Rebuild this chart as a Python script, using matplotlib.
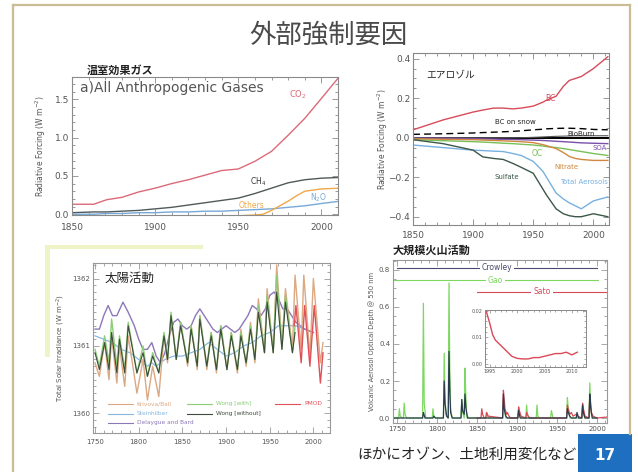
import matplotlib
matplotlib.use("Agg")
import matplotlib.pyplot as plt
from matplotlib.patches import Rectangle
from matplotlib.lines import Line2D
from matplotlib.ticker import MultipleLocator

JP = ['Noto Sans CJK JP', 'DejaVu Sans']
plt.rcParams['font.family'] = ['DejaVu Sans']

# ---- a) greenhouse gases ----
ghg_yr = [1850, 1863, 1871, 1880, 1890, 1900, 1910, 1920, 1930, 1940, 1950, 1960, 1970, 1980, 1990, 2000, 2011]
co2 = [0.13, 0.13, 0.19, 0.22, 0.29, 0.34, 0.40, 0.45, 0.51, 0.57, 0.59, 0.69, 0.82, 1.03, 1.25, 1.51, 1.80]
ch4 = [0.02, 0.03, 0.03, 0.04, 0.05, 0.07, 0.09, 0.12, 0.15, 0.18, 0.21, 0.27, 0.34, 0.41, 0.45, 0.47, 0.48]
n2o = [0.00, 0.00, 0.01, 0.01, 0.02, 0.02, 0.03, 0.03, 0.04, 0.04, 0.05, 0.06, 0.07, 0.09, 0.11, 0.14, 0.17]
oth_yr = [1915, 1930, 1950, 1960, 1965, 1970, 1975, 1980, 1985, 1990, 2000, 2011]
others = [-0.03, -0.03, -0.02, -0.01, 0.0, 0.05, 0.11, 0.17, 0.24, 0.30, 0.33, 0.34]

# ---- aerosols ----
aer_yr = [1850, 1875, 1900, 1908, 1917, 1925, 1933, 1940, 1950, 1958, 1961, 1969, 1975, 1980, 1985, 1990, 2000, 2012]
bc = [0.04, 0.09, 0.13, 0.14, 0.15, 0.15, 0.146, 0.15, 0.16, 0.18, 0.19, 0.21, 0.26, 0.29, 0.30, 0.31, 0.35, 0.41]
bc_snow = [0.017, 0.02, 0.024, 0.026, 0.028, 0.03, 0.032, 0.035, 0.04, 0.043, 0.045, 0.047, 0.048, 0.048, 0.047, 0.046, 0.042, 0.04]
bioburn = [0.0, 0.0, 0.0, 0.0, 0.0, 0.0, 0.0, 0.0, 0.002, 0.004, 0.005, 0.007, 0.008, 0.009, 0.01, 0.01, 0.01, 0.01]
soa = [-0.002, -0.003, -0.005, -0.006, -0.007, -0.008, -0.009, -0.01, -0.012, -0.014, -0.015, -0.018, -0.02, -0.022, -0.024, -0.026, -0.028, -0.03]
oc = [-0.01, -0.015, -0.02, -0.022, -0.025, -0.028, -0.03, -0.033, -0.037, -0.042, -0.045, -0.05, -0.055, -0.06, -0.065, -0.07, -0.08, -0.09]
nitrate = [-0.005, -0.008, -0.01, -0.012, -0.014, -0.016, -0.018, -0.02, -0.025, -0.035, -0.04, -0.055, -0.075, -0.095, -0.105, -0.11, -0.115, -0.115]
total_aer = [-0.037, -0.05, -0.063, -0.065, -0.068, -0.07, -0.08, -0.09, -0.12, -0.17, -0.2, -0.28, -0.31, -0.33, -0.345, -0.36, -0.32, -0.30]
sulfate = [-0.01, -0.03, -0.063, -0.097, -0.105, -0.11, -0.13, -0.15, -0.18, -0.26, -0.29, -0.36, -0.385, -0.395, -0.40, -0.40, -0.385, -0.40]

# ---- solar ----
sol_yr = [1750, 1755, 1761, 1766, 1769, 1775, 1778, 1784, 1788, 1798, 1805, 1810, 1816, 1823,
          1829, 1833, 1837, 1843, 1848, 1856, 1860, 1867, 1870, 1878, 1883, 1889, 1894, 1901,
          1906, 1913, 1917, 1923, 1928, 1933, 1937, 1944, 1947, 1954, 1958, 1964, 1968, 1976,
          1979, 1986, 1989, 1996, 2000, 2008, 2011]
krivova = [1360.75, 1360.55, 1361.05, 1360.5, 1361.15, 1360.45, 1361.0, 1360.4, 1361.15, 1360.3,
           1360.8, 1360.2, 1360.7, 1360.25, 1361.15, 1360.75, 1361.45, 1360.8, 1361.35, 1360.7,
           1361.3, 1360.65, 1361.45, 1360.65, 1361.2, 1360.6, 1361.3, 1360.65, 1361.2, 1360.6,
           1361.25, 1360.7, 1361.35, 1360.75, 1361.7, 1360.9, 1361.85, 1360.9, 1362.2, 1361.0,
           1361.85, 1360.95, 1362.05, 1360.95, 1362.05, 1360.85, 1362.0, 1360.75, 1361.05]
wong_yr = sol_yr[:43]
wong_with = [1360.95, 1360.7, 1361.15, 1360.75, 1361.4, 1360.7, 1361.15, 1360.65, 1361.35, 1360.6,
             1361.0, 1360.55, 1360.9, 1360.6, 1361.2, 1360.8, 1361.5, 1360.8, 1361.35, 1360.75,
             1361.3, 1360.7, 1361.45, 1360.7, 1361.2, 1360.65, 1361.3, 1360.65, 1361.2, 1360.65,
             1361.2, 1360.75, 1361.3, 1360.8, 1361.6, 1360.9, 1361.75, 1360.9, 1362.05, 1360.95,
             1361.75, 1360.9, 1361.3]
wong_without = [1360.9, 1360.65, 1361.05, 1360.65, 1361.2, 1360.6, 1361.1, 1360.6, 1361.3, 1360.6,
                1360.9, 1360.55, 1360.85, 1360.6, 1361.15, 1360.8, 1361.45, 1360.8, 1361.3, 1360.75,
                1361.25, 1360.7, 1361.4, 1360.7, 1361.15, 1360.65, 1361.25, 1360.65, 1361.15, 1360.65,
                1361.15, 1360.75, 1361.25, 1360.8, 1361.5, 1360.9, 1361.65, 1360.9, 1361.8, 1360.95,
                1361.65, 1360.9, 1361.2]
pmod_yr = [1978, 1980, 1986, 1990, 1996, 2001, 2008, 2011]
pmod = [1361.3, 1361.6, 1360.75, 1361.6, 1360.7, 1361.6, 1360.45, 1360.9]
db_yr = [1750, 1755, 1760, 1765, 1770, 1775, 1782, 1788, 1795, 1800, 1805, 1810, 1815, 1820, 1825,
         1830, 1835, 1840, 1845, 1850, 1855, 1860, 1865, 1870, 1875, 1880, 1885, 1890, 1895, 1900,
         1905, 1910, 1915, 1920, 1925, 1930, 1935, 1940, 1945, 1950, 1955, 1960, 1965, 1970, 1975,
         1980, 1985, 1990, 2000]
delaygue = [1361.25, 1361.25, 1361.45, 1361.6, 1361.45, 1361.45, 1361.65, 1361.5, 1361.3, 1361.1,
            1360.95, 1360.95, 1361.05, 1360.85, 1360.75, 1360.9, 1361.15, 1361.35, 1361.4, 1361.3,
            1361.25, 1361.3, 1361.45, 1361.55, 1361.45, 1361.35, 1361.25, 1361.2, 1361.25, 1361.3,
            1361.25, 1361.2, 1361.25, 1361.35, 1361.45, 1361.6, 1361.55, 1361.45, 1361.55, 1361.75,
            1361.8, 1361.7, 1361.55, 1361.55, 1361.45, 1361.35, 1361.3, 1361.25, 1361.2]
st_yr = [1750, 1760, 1770, 1780, 1790, 1800, 1810, 1815, 1820, 1830, 1840, 1850, 1860, 1870, 1880,
         1890, 1900, 1910, 1920, 1930, 1940, 1950, 1960, 1970, 1980, 1990, 2000]
steinhilber = [1361.15, 1361.1, 1361.05, 1360.95, 1360.9, 1360.8, 1360.7, 1360.75, 1360.7, 1360.8,
               1360.85, 1360.85, 1360.9, 1360.95, 1361.05, 1360.95, 1360.85, 1360.9, 1361.0, 1361.05,
               1361.15, 1361.2, 1361.3, 1361.3, 1361.3, 1361.25, 1361.2]

# ---- volcanic ----
gao_yr = [1745, 1752, 1753, 1754, 1756, 1758, 1759, 1760, 1762, 1782, 1783, 1784, 1786, 1794, 1795,
          1796, 1798, 1808, 1809, 1810, 1811, 1814, 1815, 1816, 1817, 1819, 1830, 1831, 1832, 1834,
          1835, 1836, 1837, 1839, 1861, 1862, 1864, 1882, 1883, 1884, 1886, 1901, 1902, 1903, 1905,
          1911, 1912, 1913, 1915, 1924, 1925, 1926, 1928, 1942, 1943, 1945, 1962, 1963, 1964, 1966,
          1981, 1982, 1983, 1985, 1990, 1991, 1992, 1993, 1995, 2000]
gao = [0, 0, 0.05, 0.01, 0, 0, 0.08, 0.02, 0, 0, 0.62, 0.08, 0, 0, 0.05,
       0.01, 0, 0, 0.35, 0.12, 0.02, 0, 0.73, 0.25, 0.05, 0, 0, 0.10, 0.03, 0,
       0.27, 0.12, 0.03, 0, 0, 0.03, 0, 0, 0.10, 0.05, 0, 0, 0.05, 0.01, 0,
       0, 0.07, 0.02, 0, 0, 0.07, 0.01, 0, 0, 0.04, 0, 0, 0.11, 0.05, 0,
       0, 0.06, 0.02, 0, 0, 0.19, 0.08, 0.02, 0, 0]
crow_yr = [1745, 1782, 1783, 1785, 1795, 1796, 1798, 1808, 1809, 1810, 1812, 1814, 1815, 1816, 1817,
           1819, 1830, 1831, 1832, 1834, 1835, 1836, 1838, 1882, 1883, 1884, 1886, 1888, 1901, 1902,
           1904, 1962, 1963, 1964, 1966, 1968, 1974, 1975, 1977, 1981, 1982, 1983, 1985, 1990, 1991,
           1992, 1994, 2000]
crowley = [0, 0, 0.03, 0, 0, 0.01, 0, 0, 0.20, 0.08, 0.01, 0, 0.36, 0.15, 0.03,
           0, 0, 0.10, 0.04, 0.02, 0.13, 0.06, 0, 0, 0.13, 0.05, 0.01, 0, 0, 0.04,
           0, 0, 0.05, 0.03, 0.01, 0, 0, 0.03, 0, 0, 0.07, 0.03, 0, 0, 0.13,
           0.06, 0, 0]
sato_yr = [1850, 1855, 1856, 1857, 1859, 1861, 1862, 1864, 1882, 1883, 1884, 1885, 1887, 1888, 1890,
           1892, 1901, 1902, 1903, 1905, 1911, 1912, 1914, 1916, 1962, 1963, 1964, 1966, 1968, 1970,
           1974, 1976, 1981, 1982, 1983, 1985, 1990, 1991, 1992, 1993, 1995, 2000, 2012]
sato = [0, 0, 0.05, 0.02, 0, 0, 0.03, 0.01, 0, 0.15, 0.10, 0.05, 0.02, 0.03, 0.01,
        0, 0, 0.06, 0.04, 0.01, 0, 0.03, 0.01, 0, 0, 0.07, 0.05, 0.02, 0.03, 0.01,
        0.02, 0.01, 0, 0.08, 0.05, 0.01, 0, 0.12, 0.08, 0.03, 0.01, 0, 0.005]
inset_yr = [1994.3, 1995, 1995.5, 1996, 1997, 1998, 1999, 2000, 2001, 2002, 2003, 2004, 2005, 2006,
            2007, 2008, 2009, 2010, 2011]
inset_sato = [0.02, 0.015, 0.011, 0.009, 0.007, 0.005, 0.003, 0.0022, 0.002, 0.002, 0.0025, 0.0025,
              0.003, 0.0035, 0.004, 0.004, 0.0045, 0.0035, 0.0045]

W, H = 638, 472
fig = plt.figure(figsize=(W / 100, H / 100), dpi=100)
fig.patch.set_facecolor('white')


def rect(l, t, r, b):
    return [l / W, 1 - b / H, (r - l) / W, (b - t) / H]


def idl_style(ax, xmaj, xmin, ymaj, ymin, fs, spine='#8a8a8a', lab='#555555', xpad=2):
    for s in ax.spines.values():
        s.set_color(spine)
        s.set_linewidth(0.8)
    ax.xaxis.set_major_locator(MultipleLocator(xmaj))
    ax.xaxis.set_minor_locator(MultipleLocator(xmin))
    ax.yaxis.set_major_locator(MultipleLocator(ymaj))
    ax.yaxis.set_minor_locator(MultipleLocator(ymin))
    ax.tick_params(which='both', direction='in', top=True, right=True, color=spine,
                   labelsize=fs, labelcolor=lab, width=0.6, pad=2)
    ax.tick_params(axis='x', pad=xpad)
    ax.tick_params(which='major', length=4)
    ax.tick_params(which='minor', length=2)


# slide frame
frame = '#cbbd93'
fig.add_artist(Line2D([13 / W, 13 / W], [0, 1 - 5 / H], color=frame, lw=1.6))
fig.add_artist(Line2D([13 / W, 630 / W], [1 - 5 / H, 1 - 5 / H], color=frame, lw=1.6))
fig.add_artist(Line2D([630 / W, 630 / W], [1 - 5 / H, 1 - 434 / H], color=frame, lw=1.6))
# decoration behind solar panel
fig.add_artist(Rectangle((45 / W, 1 - 249 / H), 158 / W, 4 / H, color='#eef4c6', lw=0))
fig.add_artist(Rectangle((45 / W, 1 - 357 / H), 5 / W, 112 / H, color='#eef4c6', lw=0))

fig.text(328 / W, 1 - 35 / H, '外部強制要因', family=JP, fontsize=19, color='#4a4a4a',
         ha='center', va='center')

# ---- panel 1 ----
ax1 = fig.add_axes(rect(72, 77, 338, 215))
ax1.plot(ghg_yr, co2, color='#dc6a78', lw=1.0)
ax1.plot(ghg_yr, ch4, color='#505a5a', lw=1.0)
ax1.plot(ghg_yr, n2o, color='#78a8d8', lw=1.0)
ax1.plot(oth_yr, others, color='#f0a848', lw=1.0)
ax1.set_xlim(1850, 2010)
ax1.set_ylim(-0.01, 1.79)
idl_style(ax1, 50, 10, 0.5, 0.1, 6.5, xpad=6)
ax1.set_ylabel('Radiative Forcing (W m$^{-2}$)', fontsize=5.5, color='#555555', labelpad=5)
ax1.text(0.03, 0.92, 'a)All Anthropogenic Gases', transform=ax1.transAxes, fontsize=10,
         color='#555555', va='center')
ax1.text(1986, 1.56, 'CO$_2$', color='#dc6a78', fontsize=6, ha='center', va='center')
ax1.text(1962, 0.43, 'CH$_4$', color='#333333', fontsize=5.5, ha='center', va='center')
ax1.text(1958, 0.11, 'Others', color='#f0a848', fontsize=5.5, ha='center', va='center')
ax1.text(1998, 0.22, 'N$_2$O', color='#78a8d8', fontsize=5.5, ha='center', va='center')
fig.text(87 / W, 1 - 70 / H, '温室効果ガス', family=JP, fontsize=8, fontweight='bold',
         color='#222222', va='center')

# ---- panel 2 ----
ax2 = fig.add_axes(rect(413, 53, 609, 225))
ax2.axhline(0, color='black', lw=1.4)
ax2.plot(aer_yr, bc, color='#d84b5a', lw=1.0)
ax2.plot(aer_yr, bc_snow, color='black', lw=1.0, ls=(0, (5, 3)))
ax2.plot(aer_yr, bioburn, color='#555555', lw=0.8)
ax2.plot(aer_yr, soa, color='#7a50a8', lw=1.0)
ax2.plot(aer_yr, oc, color='#78c058', lw=1.0)
ax2.plot(aer_yr, nitrate, color='#d08840', lw=1.0)
ax2.plot(aer_yr, total_aer, color='#78b0e0', lw=1.0)
ax2.plot(aer_yr, sulfate, color='#3c5848', lw=1.0)
ax2.set_xlim(1850, 2013)
ax2.set_ylim(-0.442, 0.429)
idl_style(ax2, 50, 10, 0.2, 0.05, 6.5, spine='#888888', xpad=4)
ax2.set_ylabel('Radiative Forcing (W m$^{-2}$)', fontsize=5.5, color='#555555', labelpad=-1)
ax2.text(1861, 0.32, 'エアロゾル', family=JP, fontsize=7, color='#222222', va='center')
ax2.text(1964, 0.2, 'BC', color='#d84b5a', fontsize=5.5, ha='center', va='center')
ax2.text(1935, 0.08, 'BC on snow', color='#222222', fontsize=5, ha='center', va='center')
ax2.text(1990, 0.017, 'BioBurn', color='#222222', fontsize=5, ha='center', va='center')
ax2.text(2005, -0.05, 'SOA', color='#7a50a8', fontsize=5, ha='center', va='center')
ax2.text(1953, -0.08, 'OC', color='#78c058', fontsize=5.5, ha='center', va='center')
ax2.text(1978, -0.15, 'Nitrate', color='#d08840', fontsize=5, ha='center', va='center')
ax2.text(1972, -0.222, 'Total Aerosols', color='#78b0e0', fontsize=5, va='center', clip_on=True)
ax2.text(1928, -0.2, 'Sulfate', color='#3c5848', fontsize=5, ha='center', va='center')

# ---- panel 3 ----
ax3 = fig.add_axes(rect(93, 263, 330, 433))
ax3.plot(st_yr, steinhilber, color='#86b8e0', lw=0.9)
ax3.plot(db_yr, delaygue, color='#8c78b8', lw=1.0)
ax3.plot(sol_yr, krivova, color='#dca882', lw=1.0)
ax3.plot(wong_yr, wong_with, color='#8ccc78', lw=1.0)
ax3.plot(wong_yr, wong_without, color='#3c4c3c', lw=0.8)
ax3.plot(pmod_yr, pmod, color='#e05058', lw=1.0)
ax3.set_xlim(1747.7, 2019)
ax3.set_ylim(1359.71, 1362.23)
idl_style(ax3, 50, 10, 1, 0.1, 5, spine='#999999', xpad=4)
ax3.set_ylabel('Total Solar Irradiance (W m$^{-2}$)', fontsize=5, color='#555555', labelpad=4)
ax3.text(0.05, 0.91, '太陽活動', family=JP, fontsize=9, color='#222222', va='center',
         transform=ax3.transAxes)
legend3 = [('Krivova/Ball', '#dca882', 0.063, 0.171), ('Wong [with]', '#8ccc78', 0.397, 0.171),
           ('PMOD', '#e05058', 0.768, 0.171), ('Steinhilber', '#86b8e0', 0.063, 0.112),
           ('Wong [without]', '#3c4c3c', 0.397, 0.112), ('Delaygue and Bard', '#8c78b8', 0.063, 0.059)]
for name, c, lx, ly in legend3:
    ax3.plot([lx, lx + 0.105], [ly, ly], color=c, lw=0.8, transform=ax3.transAxes)
    ax3.text(lx + 0.122, ly, name, color=c, fontsize=4.2, va='center', transform=ax3.transAxes)

# ---- panel 4 ----
ax4 = fig.add_axes(rect(393, 260, 607, 423))
ax4.plot(gao_yr, gao, color='#7cd860', lw=0.9)
ax4.plot(sato_yr, sato, color='#d84a58', lw=0.9)
ax4.plot(crow_yr, crowley, color='#2c3c50', lw=0.9)
ax4.set_xlim(1745, 2012.5)
ax4.set_ylim(-0.027, 0.854)
idl_style(ax4, 50, 10, 0.2, 0.05, 5, spine='#999999', xpad=2)
ax4.set_ylabel('Volcanic Aerosol Optical Depth @ 550 nm', fontsize=4.8, color='#555555', labelpad=3)
for name, c, x0, x1, ly in [('Crowley', '#4a4a70', 0.019, 0.953, 0.951),
                            ('Gao', '#7cd860', 0.0, 0.958, 0.877),
                            ('Sato', '#d84a58', 0.393, 1.0, 0.804)]:
    ax4.plot([x0, x1], [ly, ly], color=c, lw=0.8, transform=ax4.transAxes, clip_on=False)
    ax4.text((x0 + x1) / 2, ly, name, color=c, fontsize=5.5,
             ha='center', va='center', transform=ax4.transAxes,
             bbox=dict(facecolor='white', edgecolor='none', pad=1.5))
fig.text(393 / W, 1 - 250 / H, '大規模火山活動', family=JP, fontsize=8, fontweight='bold',
         color='#222222', va='center')

axi = fig.add_axes(rect(485, 310, 586, 367))
axi.plot(inset_yr, inset_sato, color='#d84a58', lw=1.0)
axi.set_xlim(1994.1, 2012.6)
axi.set_ylim(-0.001, 0.0202)
for s in axi.spines.values():
    s.set_color('#888888')
    s.set_linewidth(0.7)
axi.set_xticks([1995, 2000, 2005, 2010])
axi.set_yticks([0.0, 0.01, 0.02])
axi.set_yticklabels(['0.00', '0.01', '0.02'])
axi.xaxis.set_minor_locator(MultipleLocator(1))
axi.yaxis.set_minor_locator(MultipleLocator(0.002))
axi.tick_params(which='both', direction='in', top=True, right=True, labelsize=3.5,
                labelcolor='#555555', color='#888888', width=0.5, pad=1.5)
axi.tick_params(which='major', length=2.5)
axi.tick_params(which='minor', length=1.2)

# bottom note and page number
fig.text(357 / W, 1 - 455 / H, 'ほかにオゾン、土地利用変化など', family=JP, fontsize=10.5,
         color='#222222', va='center')
fig.add_artist(Rectangle((578 / W, 0), 54 / W, 38 / H, color='#1f6fc0', lw=0))
fig.text(605 / W, 1 - 455 / H, '17', fontsize=11, fontweight='bold', color='white',
         ha='center', va='center')

fig.savefig('out.png', dpi=100)
